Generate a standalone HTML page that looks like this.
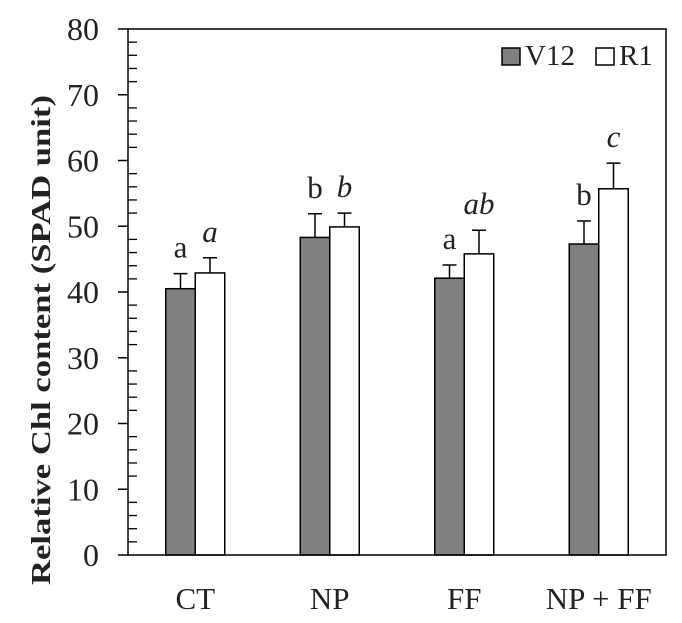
<!DOCTYPE html>
<html><head><meta charset="utf-8"><style>
html,body{margin:0;padding:0;background:#fff;}
svg{display:block;font-family:"Liberation Serif",serif;}
</style></head><body>
<svg id="chart" width="682" height="623" xmlns="http://www.w3.org/2000/svg"></svg>
<script>
const categories = ["CT", "NP", "FF", "NP + FF"];
const v12Values = [40.5, 48.3, 42.1, 47.3];
const v12Errors = [2.3, 3.6, 2.0, 3.5];
const r1Values = [42.9, 49.9, 45.8, 55.7];
const r1Errors = [2.3, 2.1, 3.6, 3.9];
const v12Letters = ["a", "b", "a", "b"];
const r1Letters = ["a", "b", "ab", "c"];
const yTicks = [0, 10, 20, 30, 40, 50, 60, 70, 80];

const svg = document.getElementById('chart');
const NS = 'http://www.w3.org/2000/svg';
const L = 128, R = 666, T = 29, B = 555, YMAX = 80;
const y = v => B - v / YMAX * (B - T);
const band = (R - L) / categories.length;
const xc = i => L + band * (i + 0.5);
const BW = 29.5;
function mk(tag, attrs, text) {
  const el = document.createElementNS(NS, tag);
  for (const k in attrs) el.setAttribute(k, attrs[k]);
  if (text !== undefined) el.textContent = text;
  svg.appendChild(el);
  return el;
}
for (let v = 0; v <= YMAX; v += 2) {
  const isMajor = v % 10 === 0;
  const t = isMajor ? mk('line', {x1: L - 10, x2: L, y1: y(v), y2: y(v), stroke: '#000', 'stroke-width': 1.5})
                    : mk('line', {x1: L, x2: L + 9, y1: y(v), y2: y(v), stroke: '#000', 'stroke-width': 1.3});
  
  
}
yTicks.forEach(v => {
  const t = mk('text', {x: 99, y: y(v) + 11, 'text-anchor': 'end', 'font-size': 32, fill: '#222'}, String(v));
  
  
});
function series(vals, errs, letters, offset, fill, italic, name) {
  vals.forEach((v, i) => {
    const x0 = xc(i) + offset;
    const r = mk('rect', {x: x0, y: y(v), width: BW, height: B - y(v), fill: fill, stroke: '#000', 'stroke-width': 1.5});
    
    
    const cx = x0 + BW / 2, et = y(v + errs[i]);
    const e = mk('path', {d: `M${cx},${y(v)}V${et}M${cx - 7},${et}H${cx + 7}`, stroke: '#000', 'stroke-width': 1.5, fill: 'none'});
    
    
    const lt = mk('text', {x: cx, y: et - 16, 'text-anchor': 'middle', 'font-size': 31, 'font-style': italic ? 'italic' : 'normal', fill: '#222'}, letters[i]);
    
    
  });
}
series(v12Values, v12Errors, v12Letters, -BW, '#808080', false, 'v12');
series(r1Values, r1Errors, r1Letters, 0, '#fff', true, 'r1');
const f = mk('rect', {x: L, y: T, width: R - L, height: B - T, fill: 'none', stroke: '#000', 'stroke-width': 1.5});


categories.forEach((c, i) => {
  const t = mk('text', {x: xc(i), y: 609, 'text-anchor': 'middle', 'font-size': 31, fill: '#222'}, c);
  
  
});
const l1 = mk('rect', {x: 502, y: 48, width: 18, height: 17, fill: '#808080', stroke: '#000', 'stroke-width': 1.5});


const l1t = mk('text', {x: 525, y: 65, 'font-size': 29, fill: '#222'}, 'V12');


const l2 = mk('rect', {x: 596, y: 48, width: 18, height: 17, fill: '#fff', stroke: '#000', 'stroke-width': 1.5});


const l2t = mk('text', {x: 619, y: 65, 'font-size': 29, fill: '#222'}, 'R1');


const yt = mk('text', {x: 0, y: 0, transform: 'translate(50,340) rotate(-90)', 'text-anchor': 'middle', 'font-size': 27, 'font-weight': 'bold', fill: '#222', textLength: 490, lengthAdjust: 'spacingAndGlyphs'}, 'Relative Chl content (SPAD unit)');


</script>
</body></html>
